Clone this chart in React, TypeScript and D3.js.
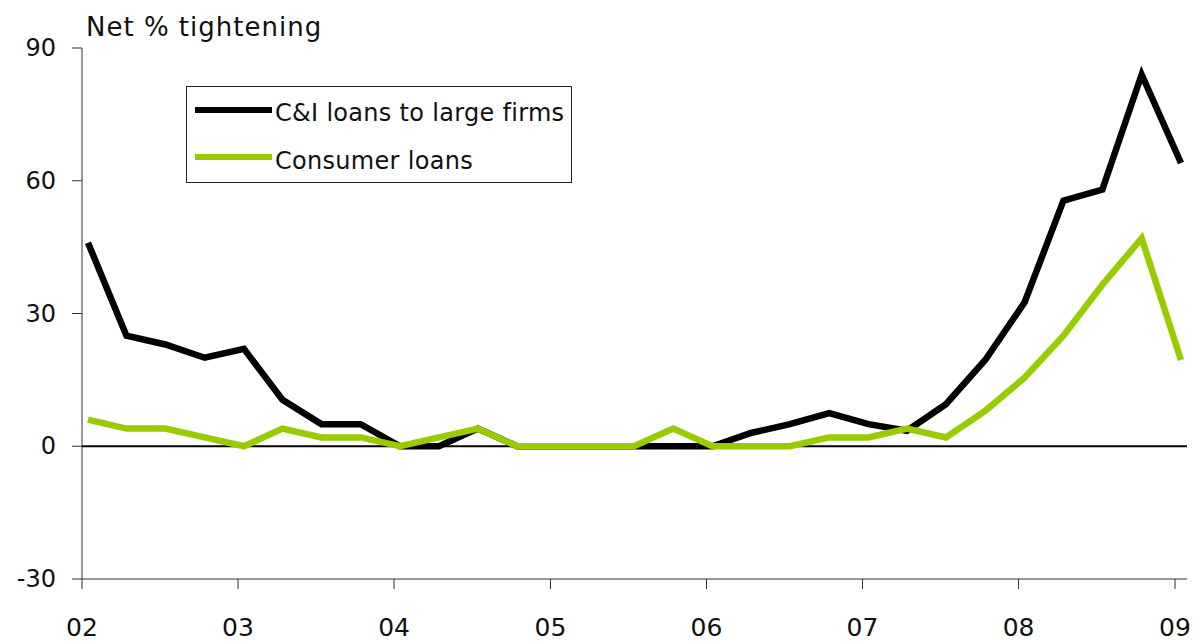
import React, { useMemo } from "react";
import * as d3 from "d3";

const WIDTH = 1199;
const HEIGHT = 644;
const MARGIN = { top: 48, right: 12, bottom: 65, left: 82 };
const FONT = "'DejaVu Sans', Verdana, sans-serif";

// survey quarters, 2002Q1 .. 2009Q1
const quarters = [
  "2002-01-15", "2002-04-15", "2002-07-15", "2002-10-15",
  "2003-01-15", "2003-04-15", "2003-07-15", "2003-10-15",
  "2004-01-15", "2004-04-15", "2004-07-15", "2004-10-15",
  "2005-01-15", "2005-04-15", "2005-07-15", "2005-10-15",
  "2006-01-15", "2006-04-15", "2006-07-15", "2006-10-15",
  "2007-01-15", "2007-04-15", "2007-07-15", "2007-10-15",
  "2008-01-15", "2008-04-15", "2008-07-15", "2008-10-15",
  "2009-01-15",
];

const cniLarge = [
  46, 25, 23, 20, 22, 10.5, 5, 5,
  0, 0, 4, 0, 0, 0, 0, 0,
  0, 3, 5, 7.5, 5, 3.5, 9.5, 19.5,
  32.5, 55.5, 58, 84, 64,
];

const consumer = [
  6, 4, 4, 2, 0, 4, 2, 2,
  0, 2, 4, 0, 0, 0, 0, 4,
  0, 0, 0, 2, 2, 4, 2, 8,
  15.5, 25, 36.5, 47, 19.5,
];

const yTicks = [-30, 0, 30, 60, 90];
const xTickYears = [2002, 2003, 2004, 2005, 2006, 2007, 2008, 2009];

const seriesNames = ["C&I loans to large firms", "Consumer loans"];
const seriesColors = ["#000000", "#99CC00"];

export default function App() {
  const boundsWidth = WIDTH - MARGIN.left - MARGIN.right;
  const boundsHeight = HEIGHT - MARGIN.top - MARGIN.bottom;
  const parse = d3.timeParse("%Y-%m-%d");
  const dates = quarters.map((q) => parse(q) as Date);

  // axis runs a bit past the 09 tick
  const xScale = useMemo(() => {
    return d3
      .scaleTime()
      .domain([new Date(2002, 0, 1), new Date(2009, 0, 1)])
      .range([0, 1093]);
  }, []);

  const yScale = useMemo(() => {
    return d3.scaleLinear().domain([-30, 90]).range([boundsHeight, 0]);
  }, [boundsHeight]);

  const line = d3
    .line<number>()
    .x((d, i) => xScale(dates[i]))
    .y((d) => yScale(d));

  const series = [cniLarge, consumer];

  return (
    <svg
      width={WIDTH}
      height={HEIGHT}
      style={{ position: "absolute", left: 0, top: 0, background: "#fff" }}
      fontFamily={FONT}
    >
      <text x={86} y={36} fontSize={26} letterSpacing={1} fill="#111">
        Net % tightening
      </text>
      <g transform={`translate(${[MARGIN.left, MARGIN.top].join(",")})`}>
        {/* y axis */}
        <line x1={0} x2={0} y1={0} y2={boundsHeight} stroke="#333" strokeWidth={1} />
        {yTicks.map((t) => (
          <g key={t}>
            <line x1={-10} x2={0} y1={yScale(t)} y2={yScale(t)} stroke="#333" />
            <text
              x={-26}
              y={yScale(t)}
              textAnchor="end"
              dominantBaseline="central"
              fontSize={24}
              fill="#111"
            >
              {t}
            </text>
          </g>
        ))}
        {/* x axis at bottom */}
        <line x1={0} x2={boundsWidth} y1={boundsHeight} y2={boundsHeight} stroke="#333" />
        {xTickYears.map((yr) => {
          const x = xScale(new Date(yr, 0, 1));
          return (
            <g key={yr}>
              <line x1={x} x2={x} y1={boundsHeight} y2={boundsHeight + 10} stroke="#333" />
              <text x={x} y={boundsHeight + 57} textAnchor="middle" fontSize={25} fill="#111">
                {String(yr).slice(2)}
              </text>
            </g>
          );
        })}
        {/* zero line */}
        <line x1={0} x2={boundsWidth} y1={yScale(0)} y2={yScale(0)} stroke="#000" strokeWidth={2} />

        {series.map((s, i) => (
          <path
            key={i}
            d={line(s) || ""}
            fill="none"
            stroke={seriesColors[i]}
            strokeWidth={6.5}
            strokeLinejoin="miter"
          />
        ))}
      </g>

      {/* legend */}
      <g>
        <rect x={186.5} y={86.5} width={385} height={96} fill="#fff" stroke="#222" strokeWidth={1} />
        {seriesNames.map((name, i) => (
          <g key={name}>
            <line
              x1={195}
              x2={272}
              y1={110 + i * 47}
              y2={110 + i * 47}
              stroke={seriesColors[i]}
              strokeWidth={6}
            />
            <text x={275} y={121 + i * 48} fontSize={24} letterSpacing={0.3} fill="#111">
              {name}
            </text>
          </g>
        ))}
      </g>
    </svg>
  );
}
